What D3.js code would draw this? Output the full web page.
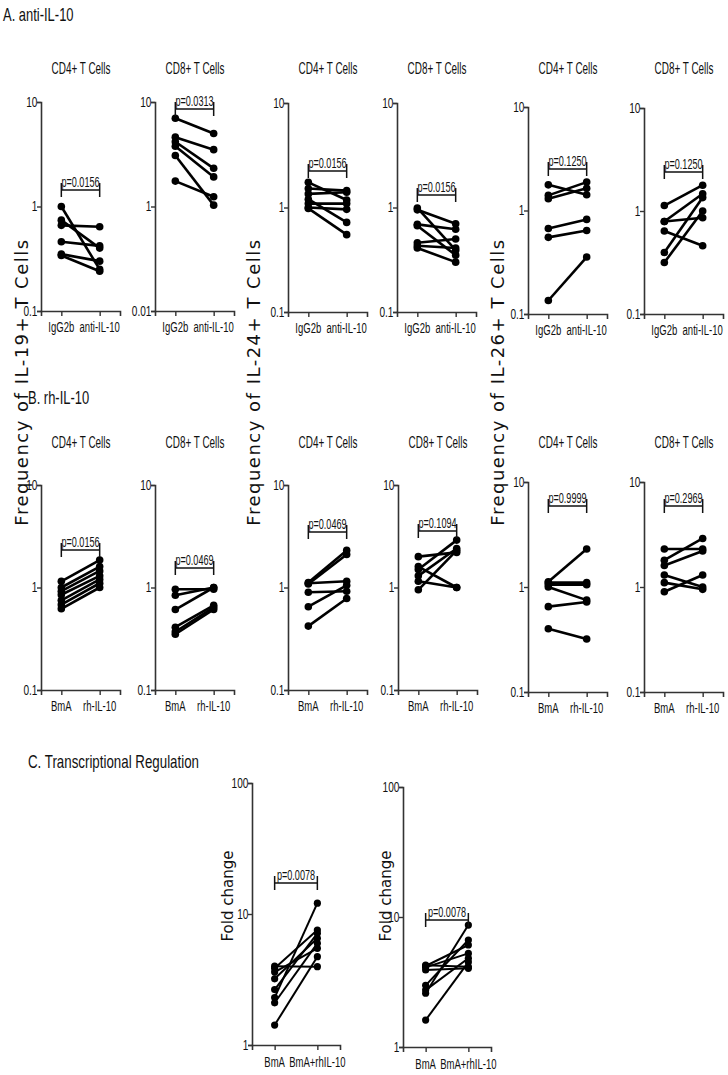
<!DOCTYPE html>
<html><head><meta charset="utf-8">
<script src="https://cdn.jsdelivr.net/npm/d3@7"></script>
<style>
html,body{margin:0;padding:0;background:#fff;}
svg{display:block;}
</style></head>
<body>
<svg id="chart" width="728" height="1075"></svg>
<script>
// ---------------- DATA ----------------
const groupsA = ["IgG2b", "anti-IL-10"];
const groupsB = ["BmA", "rh-IL-10"];
const groupsC = ["BmA", "BmA+rhIL-10"];
const cellTitles = ["CD4+ T Cells", "CD8+ T Cells"];
const sectionTitles = ["A. anti-IL-10", "B. rh-IL-10", "C. Transcriptional Regulation"];
const yLabels = ["Frequency of IL-19+ T Cells", "Frequency of IL-24+ T Cells", "Frequency of IL-26+ T Cells"];
const foldLabel = "Fold change";

const pA = ["p=0.0156", "p=0.0313", "p=0.0156", "p=0.0156", "p=0.1250", "p=0.1250"];
const pB = ["p=0.0156", "p=0.0469", "p=0.0469", "p=0.1094", "p=0.9999", "p=0.2969"];
const pC = ["p=0.0078", "p=0.0078"];

const ticksFreq = [0.1, 1, 10];
const tickLabelsFreq = ["0.1", "1", "10"];
const tickLabelsA2 = ["0.01", "1", "10"];
const ticksFold = [1, 10, 100];
const tickLabelsFold = ["1", "10", "100"];

// Row A (IgG2b -> anti-IL-10)
const il19CD4_IgG2b = [1.0, 0.74, 0.66, 0.46, 0.35, 0.34];
const il19CD4_anti  = [0.25, 0.40, 0.64, 0.42, 0.30, 0.24];
const il19CD8_IgG2b = [6.98, 4.61, 4.16, 3.77, 3.08, 1.75];
const il19CD8_anti  = [5.0, 3.5, 2.32, 1.92, 1.03, 1.24];
const il24CD4_IgG2b = [1.74, 1.52, 1.35, 1.20, 1.09, 1.0, 0.98];
const il24CD4_anti  = [1.18, 1.45, 1.40, 0.72, 1.09, 0.96, 0.55];
const il24CD8_IgG2b = [0.99, 0.95, 0.69, 0.67, 0.46, 0.43, 0.41];
const il24CD8_anti  = [0.39, 0.70, 0.62, 0.35, 0.50, 0.41, 0.30];
const il26CD4_IgG2b = [1.77, 1.40, 1.30, 0.67, 0.55, 0.135];
const il26CD4_anti  = [1.42, 1.88, 1.64, 0.82, 0.64, 0.355];
const il26CD8_IgG2b = [1.13, 0.79, 0.79, 0.64, 0.395, 0.316];
const il26CD8_anti  = [1.78, 1.47, 0.86, 0.46, 1.35, 1.0];

// Row B (BmA -> rh-IL-10)
const il19CD4_BmA = [1.15, 1.0, 0.92, 0.85, 0.75, 0.68, 0.62];
const il19CD4_rh  = [1.85, 1.6, 1.45, 1.3, 1.2, 1.1, 1.0];
const il19CD8_BmA = [0.96, 0.84, 0.61, 0.41, 0.37, 0.35];
const il19CD8_rh  = [0.96, 1.0, 1.0, 0.67, 0.64, 0.61];
const il24CD4_BmA = [1.12, 1.08, 1.1, 0.9, 0.65, 0.42];
const il24CD4_rh  = [2.3, 2.1, 1.15, 0.92, 1.05, 0.78];
const il24CD8_BmA = [2.0, 1.6, 1.5, 1.3, 1.15, 0.95];
const il24CD8_rh  = [2.2, 1.0, 2.9, 2.4, 1.0, 2.3];
const il26CD4_BmA = [1.12, 1.1, 1.05, 1.0, 0.65, 0.4];
const il26CD4_rh  = [2.3, 1.1, 1.05, 0.75, 0.72, 0.32];
const il26CD8_BmA = [2.3, 1.8, 1.6, 1.3, 1.1, 0.9];
const il26CD8_rh  = [2.3, 2.9, 2.2, 1.0, 0.95, 1.3];

// Row C (fold change)
const foldC1_BmA = [4.0, 3.85, 3.6, 3.2, 2.65, 2.3, 2.1, 1.42];
const foldC1_rh  = [3.96, 7.55, 5.47, 6.53, 7.12, 12.1, 5.97, 4.72];
const foldC2_BmA = [4.26, 4.2, 4.1, 3.91, 2.98, 2.74, 2.59, 1.61];
const foldC2_rh  = [4.14, 6.09, 5.25, 4.03, 6.65, 4.81, 8.67, 4.5];

// ---------------- LAYOUT ----------------
const NARROW = "'Liberation Sans',Arial,sans-serif";
const WIDE = "'DejaVu Sans',Verdana,sans-serif";
const AXC = "#333";

const svg = d3.select("#chart");
svg.append("rect").attr("width", 728).attr("height", 1075).attr("fill", "#fff");

function ctext(parent, x, y, str, size, anchor, sx) {
  return parent.append("text")
    .attr("transform", `translate(${x},${y}) scale(${sx},1)`)
    .attr("text-anchor", anchor)
    .style("font-family", NARROW)
    .style("font-size", size + "px")
    .attr("fill", "#111")
    .text(str);
}

function drawPanel(cfg) {
  const g = svg.append("g");
  const y = d3.scaleLog().domain(cfg.domain).range([cfg.yBot, cfg.yTop]);
  const x = d3.scalePoint().domain(cfg.groups).range([cfg.axisX, cfg.axisX + cfg.w]).padding(0.53);

  // y axis
  const ya = g.append("g").attr("transform", `translate(${cfg.axisX},0)`)
    .call(d3.axisLeft(y).tickValues(cfg.ticks).tickFormat((d, i) => cfg.tickLabels[i]).tickSizeOuter(0).tickSize(4).tickPadding(1));
  // x axis
  const xa = g.append("g").attr("transform", `translate(0,${cfg.yBot})`)
    .call(d3.axisBottom(x).tickSizeOuter(0).tickSize(5).tickFormat(() => ""));
  [ya, xa].forEach(a => {
    a.select(".domain").attr("stroke", AXC).attr("stroke-width", 1.6);
    a.selectAll(".tick line").attr("stroke", AXC).attr("stroke-width", 1.4);
  });
  ya.selectAll(".tick text")
    .style("font-family", NARROW).style("font-size", "14px").attr("fill", "#111")
    .attr("transform", "scale(0.72,1)");

  // x labels
  cfg.groups.forEach(gr => ctext(g, x(gr), cfg.yBot + cfg.xLabOff, gr, 14, "middle", 0.68));

  // title
  if (cfg.title) ctext(g, cfg.axisX + 40, cfg.titleY, cfg.title, 16, "middle", 0.62);

  // lines + dots
  const pairs = cfg.before.map((v, i) => [v, cfg.after[i]]);
  const line = d3.line().x(d => x(d.g)).y(d => y(d.v));
  g.selectAll("path.pair").data(pairs).enter().append("path")
    .attr("class", "pair")
    .attr("d", p => line([{ g: cfg.groups[0], v: p[0] }, { g: cfg.groups[1], v: p[1] }]))
    .attr("fill", "none").attr("stroke", "#000").attr("stroke-width", cfg.lw);
  const pts = [];
  pairs.forEach(p => { pts.push({ g: cfg.groups[0], v: p[0] }); pts.push({ g: cfg.groups[1], v: p[1] }); });
  g.selectAll("circle").data(pts).enter().append("circle")
    .attr("cx", d => x(d.g)).attr("cy", d => y(d.v)).attr("r", cfg.r).attr("fill", "#000");

  // significance bracket
  const bx1 = x(cfg.groups[0]), bx2 = x(cfg.groups[1]), by = cfg.bracketY;
  g.append("path")
    .attr("d", `M${bx1},${by - 7}V${by + 7}M${bx1},${by}H${bx2}M${bx2},${by - 7}V${by + 7}`)
    .attr("fill", "none").attr("stroke", "#111").attr("stroke-width", 1.5);
  ctext(g, (bx1 + bx2) / 2, by - 3, cfg.p, 14, "middle", 0.65);

  // rotated y label
  if (cfg.yLabel) {
    g.append("text")
      .attr("transform", `translate(${cfg.yLabel.x},${cfg.yLabel.y}) rotate(-90)`)
      .attr("text-anchor", "middle")
      .style("font-family", WIDE).style("font-size", cfg.yLabel.size + "px")
      .attr("fill", "#111")
      .text(cfg.yLabel.text);
  }
}

// Row A
const axisXs = [41, 155, 288, 397, 528, 644];
const rowA = [
  [il19CD4_IgG2b, il19CD4_anti, 102, 311, 190],
  [il19CD8_IgG2b, il19CD8_anti, 102, 311, 109],
  [il24CD4_IgG2b, il24CD4_anti, 103, 312, 171],
  [il24CD8_IgG2b, il24CD8_anti, 103, 312, 195],
  [il26CD4_IgG2b, il26CD4_anti, 107, 314, 169],
  [il26CD8_IgG2b, il26CD8_anti, 108, 314, 172]
];
rowA.forEach((r, i) => drawPanel({
  groups: groupsA, before: r[0], after: r[1], yTop: r[2], yBot: r[3], bracketY: r[4],
  axisX: axisXs[i], w: 79, domain: [0.1, 10], ticks: ticksFreq,
  tickLabels: i === 1 ? tickLabelsA2 : tickLabelsFreq,
  title: cellTitles[i % 2], titleY: 74, xLabOff: 21, p: pA[i], lw: 2.6, r: 3.8
}));

// Row B
const rowB = [
  [il19CD4_BmA, il19CD4_rh, 485, 690, 550],
  [il19CD8_BmA, il19CD8_rh, 485, 690, 568],
  [il24CD4_BmA, il24CD4_rh, 485, 690, 532],
  [il24CD8_BmA, il24CD8_rh, 485, 690, 531],
  [il26CD4_BmA, il26CD4_rh, 482, 692, 506],
  [il26CD8_BmA, il26CD8_rh, 482, 692, 506]
];
rowB.forEach((r, i) => drawPanel({
  groups: groupsB, before: r[0], after: r[1], yTop: r[2], yBot: r[3], bracketY: r[4],
  axisX: axisXs[i] + (i === 3 ? 1 : 0), w: 79, domain: [0.1, 10], ticks: ticksFreq, tickLabels: tickLabelsFreq,
  title: cellTitles[i % 2], titleY: 448, xLabOff: 21, p: pB[i], lw: 2.6, r: 3.8
}));

// Row C
const rowC = [
  [foldC1_BmA, foldC1_rh, 252, 783, 1045, 883, 233],
  [foldC2_BmA, foldC2_rh, 403, 787, 1047, 920, 391]
];
rowC.forEach((r, i) => drawPanel({
  groups: groupsC, before: r[0], after: r[1], axisX: r[2], w: 88, yTop: r[3], yBot: r[4], bracketY: r[5],
  domain: [1, 100], ticks: ticksFold, tickLabels: tickLabelsFold,
  title: null, xLabOff: 22, p: pC[i], lw: 2, r: 3.6,
  yLabel: { text: foldLabel, x: r[6], y: 896, size: 15 }
}));

// Frequency labels
const freqX = [28, 260, 504];
yLabels.forEach((t, i) => {
  svg.append("text")
    .attr("transform", `translate(${freqX[i]},382) rotate(-90)`)
    .attr("text-anchor", "middle")
    .style("font-family", WIDE).style("font-size", "18px")
    .style("letter-spacing", "1.5px")
    .attr("fill", "#111")
    .text(t);
});

// Section titles
ctext(svg, 3, 21, sectionTitles[0], 18, "start", 0.72);
ctext(svg, 28, 404, sectionTitles[1], 18, "start", 0.72);
ctext(svg, 28, 768, sectionTitles[2], 18, "start", 0.74);
</script>
</body></html>
